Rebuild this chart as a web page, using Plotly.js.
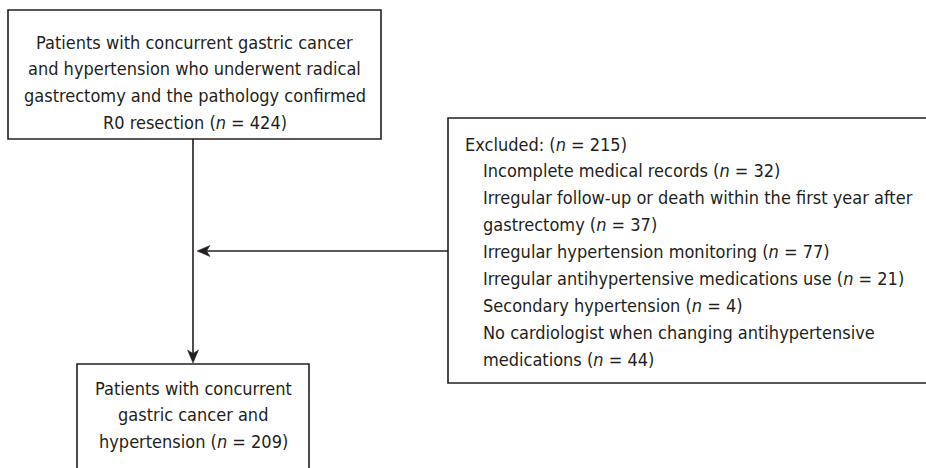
<!DOCTYPE html>
<html>
<head>
<meta charset="utf-8">
<script src="https://cdn.plot.ly/plotly-3.0.1.min.js"></script>
<style>
  html, body { margin: 0; padding: 0; background: #fff; }
  #graph { width: 926px; height: 468px; }
</style>
</head>
<body>
<div id="graph"></div>
<script>
//Flowchart text
var topLines = [
  'Patients with concurrent gastric cancer',
  'and hypertension who underwent radical',
  'gastrectomy and the pathology confirmed',
  'R0 resection (<i>n</i> = 424)'
]
var excludedLines = [
  'Excluded: (<i>n</i> = 215)',
  'Incomplete medical records (<i>n</i> = 32)',
  'Irregular follow-up or death within the first year after',
  'gastrectomy (<i>n</i> = 37)',
  'Irregular hypertension monitoring (<i>n</i> = 77)',
  'Irregular antihypertensive medications use (<i>n</i> = 21)',
  'Secondary hypertension (<i>n</i> = 4)',
  'No cardiologist when changing antihypertensive',
  'medications (<i>n</i> = 44)'
]
var excludedIndent = [0, 1, 1, 1, 1, 1, 1, 1, 1]
var bottomLines = [
  'Patients with concurrent',
  'gastric cancer and',
  'hypertension (<i>n</i> = 209)'
]

var ink = '#231f20'
var fontFam = '"DejaVu Sans Condensed", "DejaVu Sans", Verdana, sans-serif'
var fs = 18

////////Shapes (pixel coordinates, y downwards)
var shapes = [
  // top box
  {type: 'rect', x0: 8, x1: 381, y0: 10, y1: 139, line: {color: ink, width: 1.6}},
  // excluded box (right side runs off the picture)
  {type: 'path', path: 'M 940,118 L 448,118 L 448,383 L 940,383', line: {color: ink, width: 1.6}},
  // bottom box (bottom runs off)
  {type: 'path', path: 'M 77,480 L 77,364 L 309,364 L 309,480', line: {color: ink, width: 1.6}},
  // vertical connector
  {type: 'line', x0: 193, x1: 193, y0: 139, y1: 356, line: {color: ink, width: 1.6}},
  {type: 'path', path: 'M 193,363 L 187.5,350 L 193,353.5 L 198.5,350 Z', fillcolor: ink, line: {color: ink, width: 0.5}},
  // horizontal connector
  {type: 'line', x0: 448, x1: 205, y0: 251, y1: 251, line: {color: ink, width: 1.6}},
  {type: 'path', path: 'M 197,251 L 210,245.5 L 206.5,251 L 210,256.5 Z', fillcolor: ink, line: {color: ink, width: 0.5}}
]

var annotations = []
function addText(txt, x, y, anchor) {
  annotations.push({
    text: txt, x: x, y: y, xref: 'x', yref: 'y',
    xanchor: anchor, yanchor: 'middle', showarrow: false,
    font: {family: fontFam, size: fs, color: ink}
  })
}

topLines.forEach(function (t, i) { addText(t, 194.5, 42 + i * 26.8, 'center') })
excludedLines.forEach(function (t, i) { addText(t, excludedIndent[i] ? 481 : 463, 144 + i * 26.9, 'left') })
bottomLines.forEach(function (t, i) { addText(t, 193, 388 + i * 26.8, 'center') })

var layout = {
  width: 926,
  height: 468,
  margin: {l: 0, r: 0, t: 0, b: 0, pad: 0},
  showlegend: false,
  xaxis: {range: [0, 926], visible: false, fixedrange: true},
  yaxis: {range: [468, 0], visible: false, fixedrange: true},
  shapes: shapes,
  annotations: annotations,
  paper_bgcolor: '#ffffff',
  plot_bgcolor: '#ffffff'
}

Plotly.newPlot('graph', [], layout, {displayModeBar: false, staticPlot: true})
</script>
</body>
</html>
